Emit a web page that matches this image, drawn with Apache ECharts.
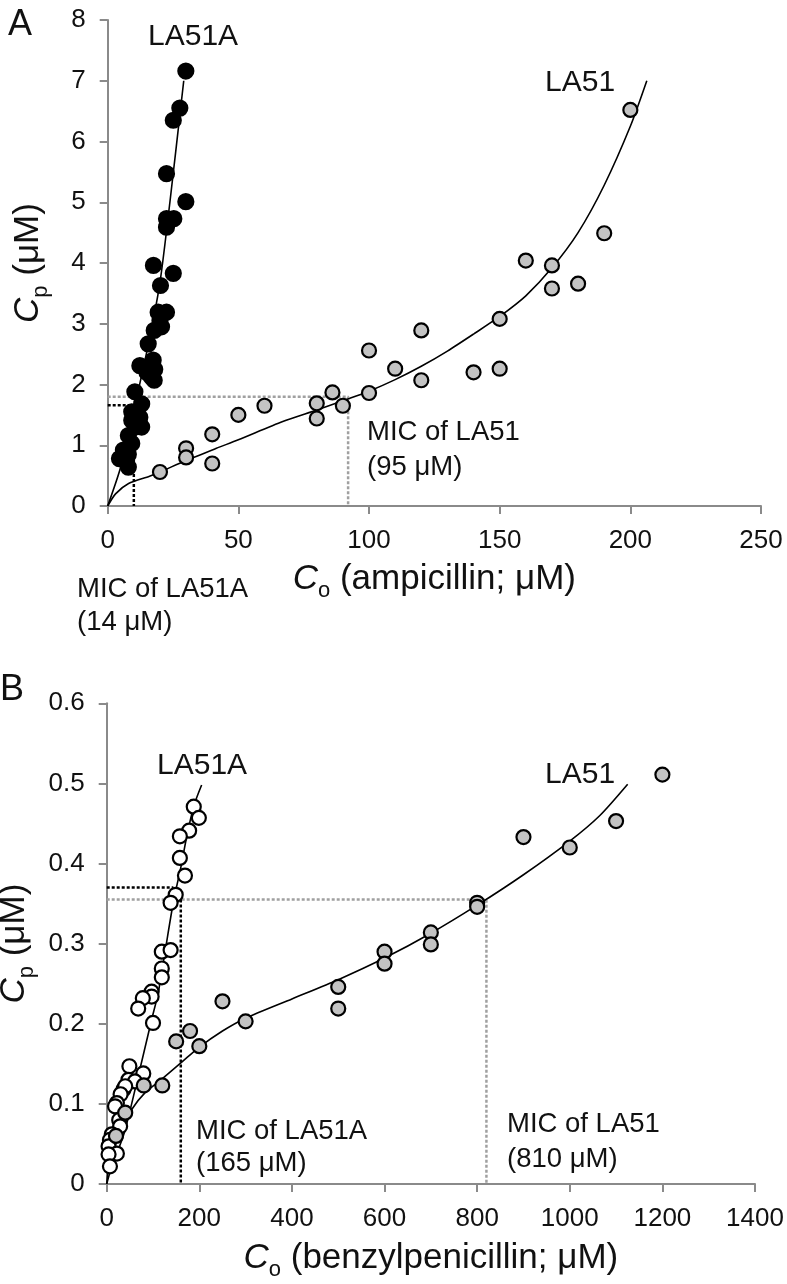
<!DOCTYPE html>
<html>
<head>
<meta charset="utf-8">
<title>Cp vs Co</title>
<script src="https://cdn.jsdelivr.net/npm/echarts@6/dist/echarts.min.js"></script>
<style>
  html, body { margin: 0; padding: 0; background: #fff; }
  #chart { width: 787px; height: 1284px; }
</style>
</head>
<body>
<div id="chart"></div>
<script>
// panel A : ampicillin
var ampLA51A = [[4.5,0.78],[6,0.8],[6,0.92],[7.9,0.64],[7.9,0.85],[7.9,1.16],[9.2,1.03],[9.2,1.41],[9.2,1.55],
  [10.4,1.88],[10.5,1.3],[11,1.5],[12.3,1.46],[13,1.3],[13,1.68],[12.3,2.31],[15,2.2],[15.5,2.67],[16.8,2.12],
  [17.4,2.4],[17.8,2.07],[17.5,3.96],[17.8,2.89],[18,2.25],[19.3,3.19],[20,3.05],[20.2,3.63],[20.6,2.95],
  [22.5,3.19],[22.5,4.73],[22.5,4.59],[22.5,5.47],[25.1,3.83],[25.3,4.73],[25.1,6.35],[27.6,6.55],[29.9,7.16],[29.9,5.01]];
var ampLA51 = [[20,0.56],[30,0.95],[30,0.80],[40,1.18],[40,0.70],[50,1.50],[60,1.65],[80,1.69],[80,1.44],[86,1.87],
  [90,1.65],[100,1.86],[100,2.56],[110,2.26],[120,2.07],[120,2.89],[140,2.20],[150,2.26],[150,3.08],[160,4.04],
  [170,3.96],[170,3.58],[180,3.66],[190,4.49],[200,6.52]];
var ampFitLA51A = [[0,0],[4.7,0.6],[8,1.2],[11.7,1.9],[16,2.75],[20,3.68],[23.8,5.0],[29.1,7.0]];
var ampFitLA51 = [[0,0],[3,0.2],[8,0.37],[16,0.49],[20,0.56],[30,0.75],[41.6,0.95],[50,1.09],[67,1.39],[80,1.58],
  [92.5,1.77],[100,1.89],[110,2.08],[120,2.3],[130,2.55],[140,2.83],[150,3.12],[160,3.46],[170,3.92],[180,4.5],
  [190,5.28],[200,6.25],[206.3,7.0]];
var ampMicLA51A = [[0,1.66],[10,1.66],[10,0]];
var ampMicLA51 = [[0,1.80],[92,1.80],[92,0]];

// panel B : benzylpenicillin
var penLA51A = [[188,0.471],[199,0.457],[178,0.441],[158,0.434],[158,0.407],[169,0.385],[149,0.361],[138,0.351],
  [119,0.290],[138,0.292],[119,0.269],[119,0.258],[97,0.240],[97,0.234],[78,0.232],[68,0.219],[100,0.201],
  [49,0.147],[79,0.138],[47,0.13],[61,0.128],[36,0.118],[40,0.122],[30,0.112],[22,0.101],[18,0.097],[27,0.08],
  [29,0.072],[11,0.062],[7,0.055],[4,0.047],[22,0.038],[4,0.037],[7,0.022]];
var penLA51 = [[20,0.060],[40,0.089],[80,0.123],[120,0.123],[150,0.178],[180,0.191],[200,0.172],[250,0.228],
  [300,0.203],[500,0.246],[500,0.219],[600,0.290],[600,0.275],[700,0.314],[700,0.299],[800,0.351],[800,0.346],
  [900,0.433],[1000,0.420],[1100,0.453],[1200,0.511]];
var penFitLA51A = [[0,0],[9,0.018],[38,0.064],[65,0.127],[97,0.205],[111,0.238],[126,0.29],[144,0.352],[160,0.395],
  [175,0.44],[190,0.475],[205,0.498]];
var penFitLA51 = [[0,0],[7,0.03],[29,0.064],[54,0.093],[83,0.114],[119,0.131],[162,0.152],[198,0.17],[250,0.191],
  [300,0.207],[400,0.231],[500,0.255],[600,0.282],[700,0.313],[800,0.348],[900,0.386],[1000,0.428],[1065,0.46],[1125,0.499]];
var penMicLA51A_h = [[0,0.37],[144,0.37]];
var penMicLA51A_v = [[160,0.355],[160,0]];
var penMicLA51 = [[0,0.355],[820,0.355],[820,0]];

var FONT = "'Liberation Sans', Arial, sans-serif";
var AXIS_GREY = "#8a8a8a";

function makeAxis(idx, opts) {
  return Object.assign({
    gridIndex: idx,
    type: "value",
    nameLocation: "middle",
    axisLine: { show: true, onZero: false, lineStyle: { color: AXIS_GREY, width: 2 } },
    axisTick: { show: true, inside: false, length: 8, lineStyle: { color: AXIS_GREY, width: 2 } },
    axisLabel: { color: "#111", fontSize: 26, fontFamily: FONT, margin: 22,
      formatter: function (v) { return String(v); } },
    splitLine: { show: false }
  }, opts);
}

function titleStyle() {
  return {
    color: "#111",
    fontFamily: FONT,
    rich: {
      i: { fontSize: 35, fontStyle: "italic", fontFamily: FONT, lineHeight: 46, verticalAlign: "middle" },
      s: { fontSize: 22, fontFamily: FONT, lineHeight: 46, verticalAlign: "bottom" },
      n: { fontSize: 35, fontFamily: FONT, lineHeight: 46, verticalAlign: "middle" }
    }
  };
}

function dotted(xi, data, color) {
  return {
    type: "line", xAxisIndex: xi, yAxisIndex: xi, data: data, symbol: "none", z: 1,
    lineStyle: { color: color, width: 2.5, type: [3, 2] }, silent: true
  };
}

function fit(xi, data) {
  return {
    type: "line", xAxisIndex: xi, yAxisIndex: xi, data: data, symbol: "none", smooth: 0.25,
    z: 2, lineStyle: { color: "#000", width: 1.6 }, silent: true
  };
}

function dots(xi, data, fill, size) {
  return {
    type: "scatter", xAxisIndex: xi, yAxisIndex: xi, data: data, symbolSize: size, z: 3,
    itemStyle: { color: fill, borderColor: "#000", borderWidth: 2.2, opacity: 1 }
  };
}

function label(x, y, text, size, extra) {
  return {
    type: "text", x: x, y: y, z: 10,
    style: Object.assign({ text: text, font: size + "px " + FONT, fill: "#111",
      textAlign: "left", textVerticalAlign: "middle" }, extra || {})
  };
}

var myChart = echarts.init(document.getElementById("chart"), null, { renderer: "canvas" });

myChart.setOption({
  animation: false,
  backgroundColor: "#fff",
  grid: [
    { left: 107.7, top: 20, width: 653.3, height: 486, containLabel: false, outerBoundsMode: "none" },
    { left: 106.7, top: 703.3, width: 648.3, height: 480.7, containLabel: false, outerBoundsMode: "none" }
  ],
  xAxis: [
    makeAxis(0, { min: 0, max: 250, interval: 50, name: "{i|C}{s|o}{n| (ampicillin; μM)}", nameGap: 50,
      nameTextStyle: titleStyle() }),
    makeAxis(1, { min: 0, max: 1400, interval: 200, name: "{i|C}{s|o}{n| (benzylpenicillin; μM)}", nameGap: 51,
      nameTextStyle: titleStyle() })
  ],
  yAxis: [
    makeAxis(0, { min: 0, max: 8, interval: 1, name: "{i|C}{s|p}{n| (μM)}", nameGap: 56, nameRotate: 90,
      nameTextStyle: titleStyle() }),
    makeAxis(1, { min: 0, max: 0.6, interval: 0.1, name: "{i|C}{s|p}{n| (μM)}", nameGap: 62, nameRotate: 90,
      nameTextStyle: titleStyle() })
  ],
  graphic: [
    label(8, 25, "A", 36),
    label(0, 690, "B", 36),
    label(148, 37, "LA51A", 30),
    label(545, 83, "LA51", 30),
    label(157, 766, "LA51A", 30),
    label(545, 775, "LA51", 30),
    label(77, 573, "MIC of LA51A\n(14 μM)", 27.5, { textVerticalAlign: "top", lineHeight: 33 }),
    label(367, 415, "MIC of LA51\n(95 μM)", 27.5, { textVerticalAlign: "top", lineHeight: 35 }),
    label(196, 1115, "MIC of LA51A\n(165 μM)", 27.5, { textVerticalAlign: "top", lineHeight: 32 }),
    label(507, 1107, "MIC of LA51\n(810 μM)", 27.5, { textVerticalAlign: "top", lineHeight: 35 })
  ],
  series: [
    dotted(0, ampMicLA51, "#a0a0a0"),
    dotted(0, ampMicLA51A, "#000"),
    fit(0, ampFitLA51A),
    fit(0, ampFitLA51),
    dots(0, ampLA51, "#c3c3c3", 14),
    dots(0, ampLA51A, "#000", 15),

    dotted(1, penMicLA51, "#a0a0a0"),
    dotted(1, penMicLA51A_h, "#000"),
    dotted(1, penMicLA51A_v, "#000"),
    fit(1, penFitLA51A),
    fit(1, penFitLA51),
    dots(1, penLA51A, "#fff", 14),
    dots(1, penLA51, "#c3c3c3", 14)
  ]
});
</script>
</body>
</html>
